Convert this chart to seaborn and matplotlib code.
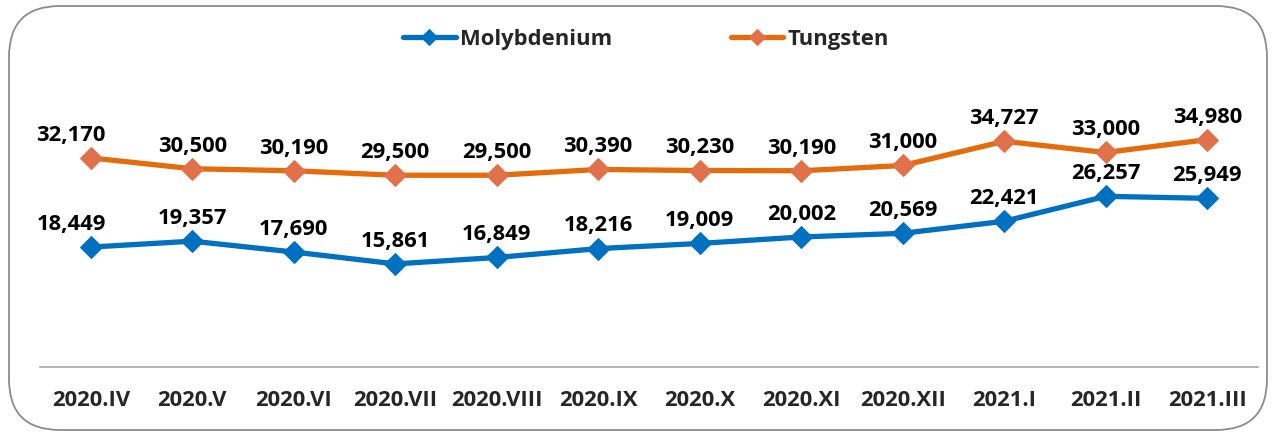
import matplotlib
matplotlib.use("Agg")
import matplotlib.pyplot as plt
import seaborn as sns
from matplotlib.patches import FancyBboxPatch

sns.set_style("white")
plt.rcParams['font.family'] = ['Open Sans', 'DejaVu Sans']
plt.rcParams['font.weight'] = 'bold'

months = ["2020.IV", "2020.V", "2020.VI", "2020.VII", "2020.VIII", "2020.IX",
          "2020.X", "2020.XI", "2020.XII", "2021.I", "2021.II", "2021.III"]
molybdenium = [18449, 19357, 17690, 15861, 16849, 18216,
               19009, 20002, 20569, 22421, 26257, 25949]
tungsten = [32170, 30500, 30190, 29500, 29500, 30390,
            30230, 30190, 31000, 34727, 33000, 34980]

blue = "#0070C0"
orange = "#E46C0A"
orange_mk = "#E0714A"
fs = 15.8

fig = plt.figure(figsize=(12.74, 4.35), dpi=100)
ax = fig.add_axes([40 / 1274, 1 - 368 / 435, 1218 / 1274, 260 / 435])

sns.lineplot(x=months, y=molybdenium, ax=ax, color=blue, lw=3.8, marker="D",
             markersize=11, markerfacecolor=blue, markeredgecolor=blue,
             label="Molybdenium")
sns.lineplot(x=months, y=tungsten, ax=ax, color=orange, lw=3.8, marker="D",
             markersize=11, markerfacecolor=orange_mk, markeredgecolor=orange_mk,
             label="Tungsten")

# data labels
for series in (molybdenium, tungsten):
    for i, v in enumerate(series):
        dx = -14 if i == 0 else 0
        ax.annotate(f"{v:,}", (i, v), xytext=(dx, 17), textcoords="offset points",
                    ha="center", va="center", fontsize=fs, fontweight="bold",
                    color="black")

ax.set_xlim(-0.5, len(months) - 0.5)
ax.set_ylim(0, 40000)
ax.set_yticks([])
ax.set_xlabel("")
ax.set_ylabel("")
for s in ("top", "right", "left"):
    ax.spines[s].set_visible(False)
ax.spines["bottom"].set_color("#A6A6A6")
ax.spines["bottom"].set_linewidth(1.2)
ax.tick_params(axis="x", length=0, pad=16, labelsize=fs)
for lab in ax.get_xticklabels():
    lab.set_fontweight("bold")

handles, labels = ax.get_legend_handles_labels()
ax.get_legend().remove()
fig.legend(handles, labels, loc="center", bbox_to_anchor=(0.507, 1 - 40 / 435),
           ncol=2, frameon=False, handlelength=2.4, markerscale=0.75,
           handletextpad=0.2, columnspacing=5.4,
           prop={"weight": "bold", "size": fs})

# rounded outer border
border = FancyBboxPatch((9 / 1274, 4 / 435), 1258 / 1274, 424 / 435,
                        boxstyle="round,pad=0,rounding_size=0.04",
                        transform=fig.transFigure, fill=False,
                        edgecolor="#8C8C8C", lw=1.3, mutation_aspect=1274 / 435)
fig.patches.append(border)

fig.savefig("out.png", dpi=100)
